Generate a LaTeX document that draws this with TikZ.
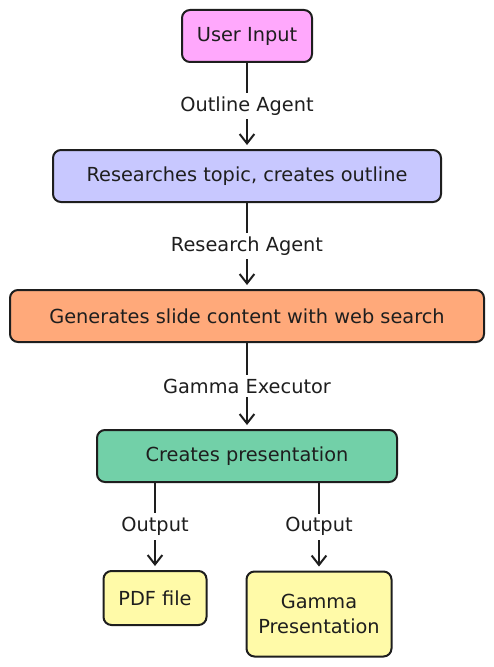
\documentclass[tikz,border=0pt]{standalone}
\usepackage{fontspec}
\setmainfont{DejaVu Sans}
\usetikzlibrary{arrows.meta,positioning,shapes}
\definecolor{inkgray}{HTML}{1E1E1E}
\definecolor{userpink}{HTML}{FFA8FC}
\definecolor{outlineblue}{HTML}{C8C8FF}
\definecolor{slideorange}{HTML}{FFA97A}
\definecolor{gammagreen}{HTML}{72D0A8}
\definecolor{outyellow}{HTML}{FFFAA8}

\begin{document}
\begin{tikzpicture}
			[x=0.75pt,y=-0.75pt,font=\fontsize{14.5}{19}\selectfont,
			box/.style={shape=rectangle,rounded corners=6pt,draw=inkgray,line width=1.5pt,
				text=inkgray,minimum height=39pt,inner sep=2pt},
			arc/.style={-{Straight Barb[length=7pt,width=11pt,line width=1.5pt]},line width=1.5pt,draw=inkgray,shorten >=3pt},
			lbl/.style={fill=white,text=inkgray,inner sep=3pt}]
			\useasboundingbox (0,0) rectangle (493,667);
			\node (user) [box,fill=userpink,minimum width=97.5pt] at (247,36) {User Input};
			\node (outline) [box,fill=outlineblue,minimum width=291pt] at (247,176) {Researches topic, creates outline};
			\node (slides) [box,fill=slideorange,minimum width=355.5pt] at (247,316) {Generates slide content with web search};
			\node (present) [box,fill=gammagreen,minimum width=225pt] at (247,456) {Creates presentation};
			
			\node (pdf) [box,fill=outyellow,minimum width=77.25pt,minimum height=40.5pt] at (155,598) {PDF file};
			\node (gamma) [box,fill=outyellow,minimum width=108.75pt,minimum height=63.75pt,align=center] at (319,614) {Gamma\\Presentation};
			
			\draw [arc] (user) to node [lbl] {Outline Agent} (outline);
			\draw [arc] (outline) to node [lbl] {Research Agent} (slides);
			\draw [arc] (slides) to node [lbl] {Gamma Executor} (present);
			\draw [arc] (present.south -| pdf) to node [lbl] {Output} (pdf);
			\draw [arc] (present.south -| gamma) to node [lbl] {Output} (gamma);
			\end{tikzpicture}
\end{document}
